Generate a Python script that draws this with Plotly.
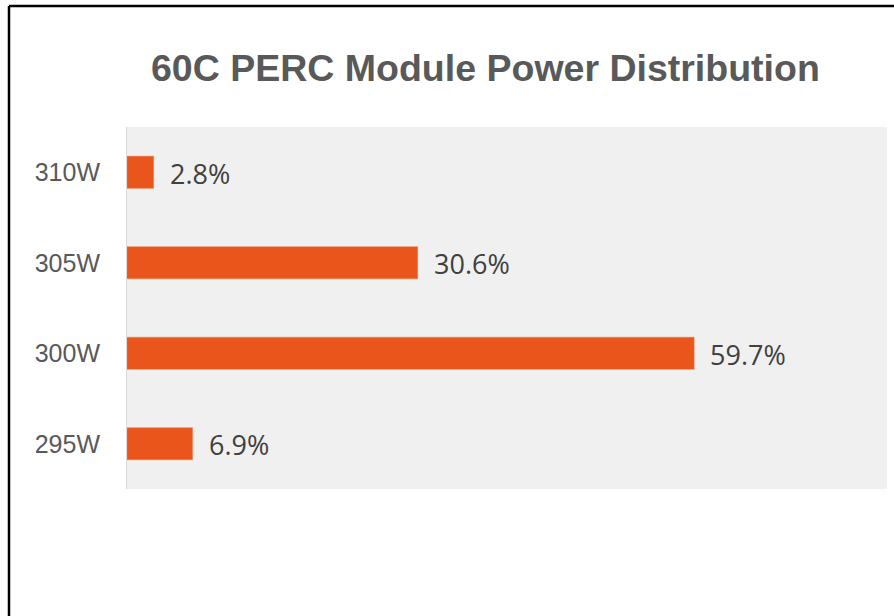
import plotly.graph_objects as go

categories = ["295W", "300W", "305W", "310W"]
values = [6.9, 59.7, 30.6, 2.8]
labels = ["6.9%", "59.7%", "30.6%", "2.8%"]

W, H = 894, 616
L, R, T, B = 127, 7, 127, 127
pw, ph = W - L - R, H - T - B

def px_x(px):
    return (px - L) / pw

def px_y(py):
    return (H - B - py) / ph

fig = go.Figure()
fig.add_trace(go.Bar(
    x=values, y=categories, orientation="h",
    marker=dict(color="#E9551A", line=dict(color="#F07A4A", width=0.5)),
    hoverinfo="skip",
))

annotations = []
for v, c, t in zip(values, categories, labels):
    annotations.append(dict(
        x=v, y=c, xref="x", yref="y", text=t, showarrow=False,
        xanchor="left", yanchor="middle", xshift=14, yshift=-1,
        font=dict(family="Open Sans", size=27, color="#404040"),
    ))

annotations.append(dict(
    x=px_x(485), y=px_y(68), xref="paper", yref="paper",
    text="<b>60C PERC Module Power Distribution</b>", showarrow=False,
    xanchor="center", yanchor="middle",
    font=dict(family="Liberation Sans", size=37.5, color="#595959"),
))

shapes = [
    dict(type="line", xref="paper", yref="paper",
         x0=px_x(9), x1=px_x(900), y0=px_y(6), y1=px_y(6),
         line=dict(color="black", width=2.5)),
    dict(type="line", xref="paper", yref="paper",
         x0=px_x(9), x1=px_x(9), y0=px_y(6), y1=px_y(620),
         line=dict(color="black", width=2.5)),
]

fig.update_layout(
    width=W, height=H,
    margin=dict(l=L, r=R, t=T, b=B),
    paper_bgcolor="white", plot_bgcolor="#f0f0f0",
    bargap=0.645, showlegend=False,
    annotations=annotations, shapes=shapes,
    xaxis=dict(range=[0, 80], showgrid=False, showticklabels=False,
               zeroline=False, showline=False, fixedrange=True),
    yaxis=dict(categoryorder="array", categoryarray=categories,
               showgrid=False, zeroline=False, showline=True,
               linecolor="#d9d9d9", linewidth=1,
               ticks="outside", ticklen=21, tickcolor="rgba(0,0,0,0)",
               tickfont=dict(family="Liberation Sans", size=25, color="#595959"),
               fixedrange=True),
)

fig.write_html("out.html", config={"displayModeBar": False},
               post_script="document.body.style.margin='0';document.body.style.overflow='hidden';")
